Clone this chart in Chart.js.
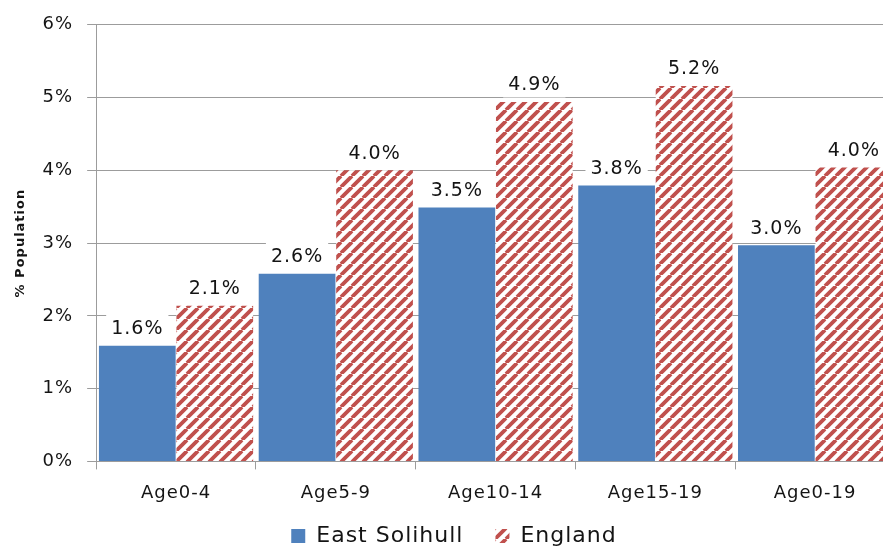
<!DOCTYPE html>
<html>
<head>
<meta charset="utf-8">
<script src="https://cdn.jsdelivr.net/npm/chart.js@4.4.1/dist/chart.umd.min.js"></script>
<style>
  html, body { margin: 0; padding: 0; overflow: hidden; background: #fff; }
  #c { display: block; }
</style>
</head>
<body>
<canvas id="c" width="897" height="557"></canvas>
<script>
// Share of population by age band (%)
const categories = ['Age0-4', 'Age5-9', 'Age10-14', 'Age15-19', 'Age0-19'];
const eastSolihull = [1.59, 2.58, 3.49, 3.79, 2.97];
const england = [2.14, 4.0, 4.94, 5.16, 4.04];
const yTickLabels = ['0%', '1%', '2%', '3%', '4%', '5%', '6%'];

const BLUE = '#4f81bd';
const RED = '#c0504d';
const GRID = '#9c9c9c';
const TEXT = '#141414';
const FONT = '"DejaVu Sans", Verdana, sans-serif';

// Diagonal red-on-white hatch used for the England series
function hatch(color) {
  const s = 11;
  const p = document.createElement('canvas');
  p.width = s; p.height = s;
  const g = p.getContext('2d');
  g.fillStyle = '#fff';
  g.fillRect(0, 0, s, s);
  g.strokeStyle = color;
  g.lineWidth = 3.8;
  g.beginPath();
  for (const k of [-s, 0, s]) {
    g.moveTo(k, s);
    g.lineTo(k + s, 0);
  }
  g.stroke();
  return g.createPattern(p, 'repeat');
}

// Slightly wider text tracking for all chart text
const tracking = {
  id: 'tracking',
  beforeLayout(chart) { chart.ctx.letterSpacing = '1px'; },
  beforeDraw(chart) { chart.ctx.letterSpacing = '1px'; }
};

// Value labels above each bar, on a white box that masks the grid
const valueLabels = {
  id: 'valueLabels',
  afterDatasetsDraw(chart) {
    const ctx = chart.ctx;
    ctx.save();
    ctx.letterSpacing = '1px';
    ctx.font = '19px ' + FONT;
    ctx.textAlign = 'center';
    ctx.textBaseline = 'alphabetic';
    chart.data.datasets.forEach((ds, i) => {
      chart.getDatasetMeta(i).data.forEach((bar, j) => {
        const txt = ds.data[j].toFixed(1) + '%';
        const w = ctx.measureText(txt).width;
        const top = bar.y;
        ctx.fillStyle = '#fff';
        ctx.fillRect(bar.x - w / 2 - 5, top - 34, w + 10, 29.5);
        ctx.fillStyle = TEXT;
        ctx.fillText(txt, bar.x, top - 11.5);
      });
    });
    ctx.restore();
  }
};

new Chart(document.getElementById('c'), {
  type: 'bar',
  data: {
    labels: categories,
    datasets: [
      {
        label: 'East Solihull',
        data: eastSolihull,
        backgroundColor: BLUE,
        borderWidth: 0,
        categoryPercentage: 0.97,
        barPercentage: 0.99
      },
      {
        label: 'England',
        data: england,
        backgroundColor: hatch(RED),
        borderWidth: 0,
        categoryPercentage: 0.97,
        barPercentage: 0.99
      }
    ]
  },
  options: {
    responsive: false,
    animation: false,
    layout: { padding: { left: 13, top: 20, right: 2, bottom: 0 } },
    plugins: {
      tooltip: { enabled: false },
      legend: {
        position: 'bottom',
        labels: {
          boxWidth: 14,
          boxHeight: 14,
          padding: 8,
          color: TEXT,
          font: { family: FONT, size: 22 },
          // extra trailing space widens the gap between the two entries
          generateLabels(chart) {
            const items = Chart.defaults.plugins.legend.labels.generateLabels(chart);
            items.forEach((it, i) => { if (i < items.length - 1) it.text += '   '; });
            return items;
          }
        }
      }
    },
    scales: {
      x: {
        grid: {
          display: true,
          drawOnChartArea: false,
          drawTicks: true,
          tickLength: 8,
          color: GRID,
          offset: true
        },
        border: { display: true, color: GRID, width: 1 },
        ticks: {
          color: TEXT,
          padding: 13,
          maxRotation: 0,
          font: { family: FONT, size: 18 }
        }
      },
      y: {
        min: 0,
        max: 6,
        grid: {
          color: GRID,
          lineWidth: 1,
          drawTicks: true,
          tickLength: 9
        },
        border: { display: true, color: GRID, width: 1 },
        ticks: {
          stepSize: 1,
          color: TEXT,
          padding: 14,
          font: { family: FONT, size: 18 },
          callback: (v) => yTickLabels[v]
        },
        title: {
          display: true,
          text: '% Population',
          color: TEXT,
          padding: { top: 0, bottom: 0 },
          font: { family: FONT, size: 13, weight: 'bold' }
        }
      }
    }
  },
  plugins: [tracking, valueLabels]
});
</script>
</body>
</html>
